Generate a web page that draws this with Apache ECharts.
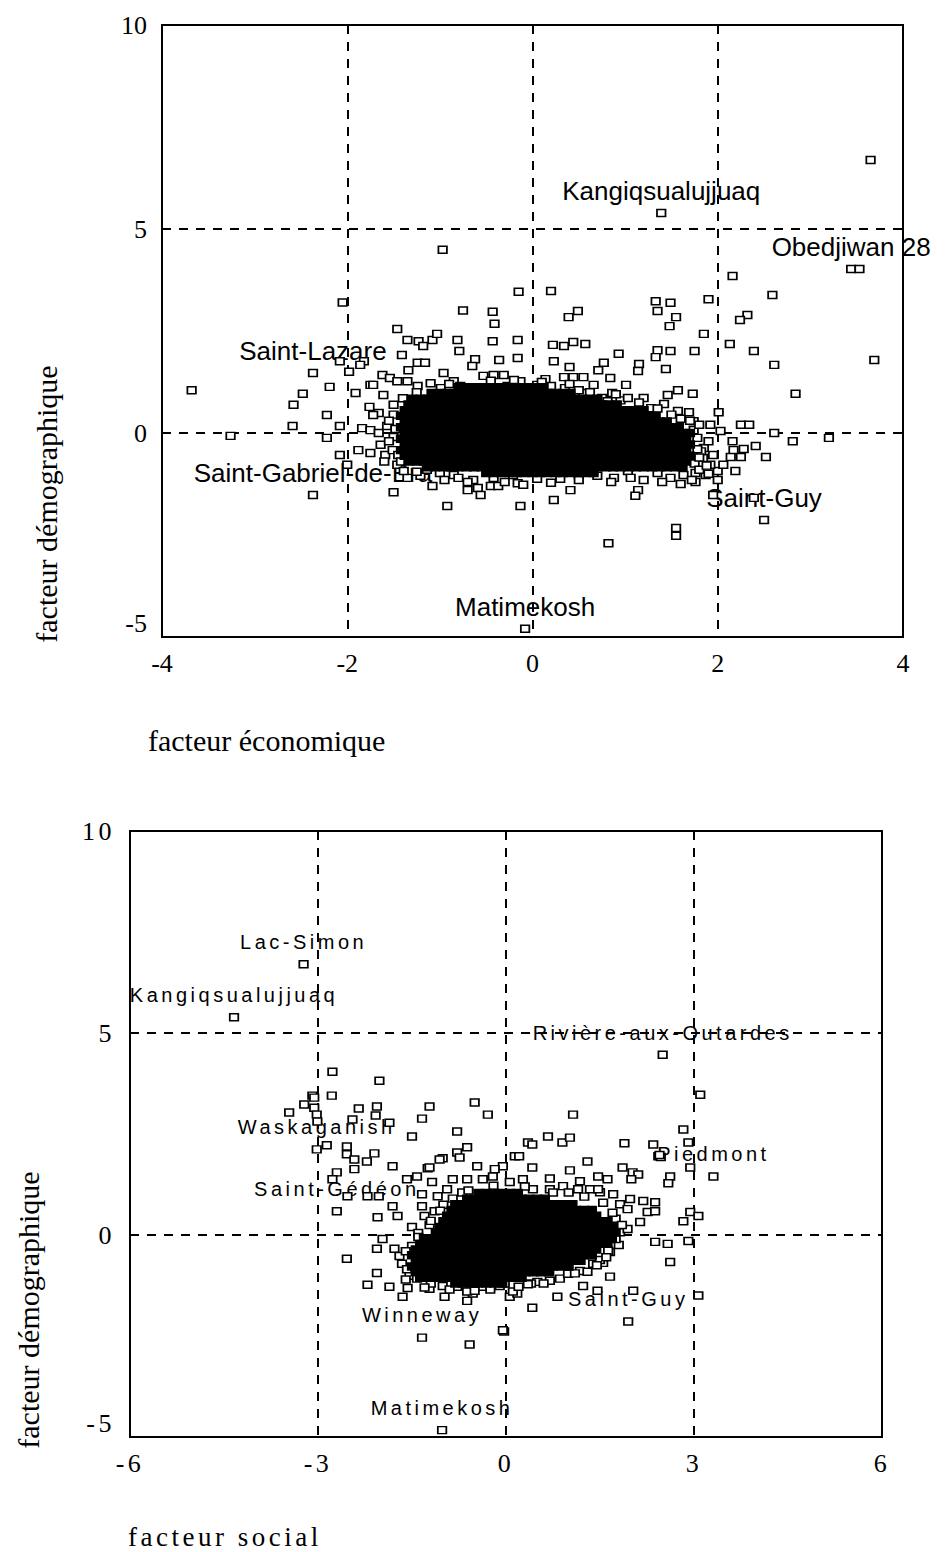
<!DOCTYPE html>
<html>
<head>
<meta charset="utf-8">
<script src="https://cdn.jsdelivr.net/npm/echarts@6.0.0/dist/echarts.min.js"></script>
<style>
  html, body { margin: 0; padding: 0; background: #fff; }
  #top { position: absolute; left: 0; top: 0; width: 946px; height: 1552px; }
  #bottom { position: absolute; left: 0; top: 790px; width: 946px; height: 762px; }
  /* the lower panel is typeset with spaced letters */
  #bottom text { letter-spacing: 3.5px; }
</style>
</head>
<body>
<div id="top"></div>
<div id="bottom"></div>
<script>
// ---------- upper panel : facteur économique x facteur démographique
const ecoTicks = [-4, -2, 0, 2, 4];
const demoTicks = [-5, 0, 5, 10];
const socTicks = [-6, -3, 0, 3, 6];

// labelled municipalities [name, x, y]
const ecoNamed = [
  ['Kangiqsualujjuaq', 1.39, 5.39], ['Obedjiwan 28', 3.44, 4.02], ['Saint-Lazare', -2.37, 1.47],
  ['Saint-Gabriel-de-Bra', -2.37, -1.52], ['Saint-Guy', 2.5, -2.13], ['Matimekosh', -0.08, -4.8]
];

// scattered points [x, y]
const ecoPoints = [
  [3.65,6.69],[-0.97,4.49],[-0.15,3.46],[-2.05,3.2],[-0.75,3.0],[-0.43,2.97],[-0.41,2.68],[-1.46,2.55],
  [3.53,4.02],[2.16,3.85],[2.59,3.38],[0.2,3.48],[1.9,3.28],
  [1.33,3.23],[1.49,3.19],[1.35,2.99],[1.55,2.84],[1.48,2.62],[0.49,2.99],[0.39,2.84],[2.32,2.89],[2.24,2.77],
  [1.85,2.43],[2.13,2.18],[2.39,2.01],[3.69,1.79],[2.61,1.67],[2.84,0.96],[1.75,2.01],
  [1.35,2.03],[1.49,2.01],[1.33,1.86],[1.15,1.69],[1.14,1.52],[1.44,1.57],[0.93,1.94],[0.77,1.72],[0.71,1.54],[0.84,1.35],[1.01,1.18],
  [0.22,2.16],[0.34,2.13],[0.44,2.23],[0.57,2.18],[0.23,1.76],[0.4,1.62],[0.14,1.32],[0.34,1.37],[0.44,1.37],[0.55,1.37],[0.55,0.98],
  [0.75,0.86],[0.86,0.98],[0.74,0.66],[1.57,1.05],[1.46,0.93],[1.73,0.96],[1.42,0.71],[1.69,0.51],[2.01,0.51],[1.74,0.29],[1.92,0.2],
  [2.03,0.05],[2.25,0.2],[2.34,0.2],[2.61,0.0],[2.81,-0.2],[3.2,-0.12],
  [2.16,-0.2],[2.28,-0.39],[2.17,-0.42],[2.41,-0.32],[2.52,-0.59],[2.25,-0.59],[2.14,-0.59],[2.19,-0.93],
  [1.76,-0.98],[1.87,-1.03],[1.76,-1.2],[2.0,-0.93],[2.0,-1.15],
  [1.55,-2.33],[1.55,-2.52],[0.82,-2.7],[0.41,-1.4],[0.23,-1.64],[1.14,-1.4],[1.11,-1.54],[0.5,-1.03],[1.03,-0.93],[1.95,-1.52],[2.39,-1.59],
  [-3.68,1.05],[-3.26,-0.07],[-2.58,0.69],[-2.48,0.96],[-2.59,0.17],[-2.19,1.13],[-2.22,0.44],[-2.22,-0.12],[-2.08,0.17],[-2.08,-0.54],[-2.0,-0.78],
  [-2.08,1.76],[-1.98,1.5],[-1.91,0.98],[-1.82,1.76],[-1.86,1.67],
  [-1.35,2.28],[-1.23,2.25],[-1.18,2.13],[-1.08,2.28],[-1.03,2.43],[-0.81,2.28],[-0.79,2.01],[-0.43,2.25],[-0.16,2.28],
  [-0.16,1.84],[-0.36,1.79],[-0.62,1.81],[-0.65,1.64],[-1.41,1.91],[-1.34,1.54],[-1.24,1.72],[-1.16,1.72],
  [-0.53,1.4],[-0.42,1.42],[-0.31,1.42],[-0.13,1.27],[-0.96,1.47],[-0.85,1.27],
  [-1.62,1.42],[-1.54,1.35],[-1.46,1.27],[-1.75,1.18],[-1.72,1.18],[-1.61,0.93],[-1.76,0.64],[-1.66,0.49],
  [-1.84,0.12],[-1.75,0.07],[-1.66,0.0],[-1.88,-0.42],[-1.75,-0.49],[-1.59,-0.54],
  [-1.5,-1.45],[-0.92,-1.79],[-0.7,-1.4],[-0.59,-1.35],[-0.56,-1.52],[-0.45,-1.3],[-0.37,-1.3],[-1.08,-1.3],[-0.13,-1.79],[-0.16,-1.23],[-1.35,-1.1],[-1.21,-1.05],
  [-1.14,-0.9],[-0.85,-1.03],[-0.64,-1.15],[-0.42,-1.1],[-0.21,-1.03],[-0.1,-1.27],
  [-1.72,0.44],[-1.64,-0.29],[-1.57,0.17],[-1.5,0.69],[-1.51,-0.42],[-1.45,-0.54],[-1.46,-0.78],[-1.39,-0.93],
  [-1.35,1.27],[-1.24,1.15],[-1.1,1.22],[-0.99,1.1],[-0.78,1.15],[-0.64,1.05],[-0.27,1.15],[-0.05,1.1],
  [0.05,1.18],[0.2,1.15],[0.35,1.1],[0.5,1.05],[0.66,1.18],[0.81,0.78],[0.95,0.8],[1.03,0.86],[1.2,0.86],[1.28,0.61],[1.57,0.54],[1.06,0.56],
  [1.78,-0.12],[1.85,-0.37],[1.95,-0.54],[1.74,0.07],[2.06,-0.78],[1.92,-0.78],[1.84,-0.61],
  [1.06,-1.1],[0.88,-1.1],[0.7,-1.05],[1.35,-0.98],[1.49,-1.1],[1.63,-1.03],
  [1.9,-1.0],[1.82,-0.45],[1.9,-0.2],[1.8,0.2],[1.6,0.35],[0.3,-1.12],[0.05,-1.12],[-0.8,-1.1],[-1.0,-0.98],
  [-1.5,0.45],[-1.55,0.3],[-1.5,-0.1],[-1.55,-0.2],[-1.48,0.1],[-1.6,-0.7],[-1.42,-0.7],
  [-0.9,1.2],[-0.45,1.28],[-0.2,1.3],[0.1,1.25],[0.4,1.2],[0.62,1.0],[0.9,0.95],[1.15,0.75],[1.35,0.6],[1.5,0.45],[1.7,0.3],[-1.25,1.0],[-1.4,0.85],
  [-1.25,-0.95],[-0.95,-1.15],[-0.7,-1.2],[-0.3,-1.2],[0.2,-1.22],[0.5,-1.15],[0.85,-1.2],[1.2,-1.15],[1.4,-1.2],[1.72,-1.15],[1.6,-1.25],
  [1.75,-0.75],[1.8,-0.6],[1.78,-0.4],[1.8,-0.9],[1.88,-0.8]
];

// overplotted core, one row per y level: [y, x, x, ...]
const ecoCoreRows = [
  [1.12, -0.8,-0.71,-0.63,-0.55,-0.46,-0.38,-0.3,-0.21,-0.13,-0.05,0.04,0.12],
  [0.98, -1.09,-1.0,-0.92,-0.84,-0.75,-0.67,-0.59,-0.5,-0.42,-0.34,-0.25,-0.17,-0.09,0.0,0.08,0.16,0.25,0.33,0.41],
  [0.84, -1.3,-1.21,-1.13,-1.05,-0.96,-0.88,-0.8,-0.71,-0.63,-0.55,-0.46,-0.38,-0.3,-0.21,-0.13,-0.05,0.04,0.12,0.2,0.29,0.37,0.45,0.54,0.62,0.7],
  [0.70, -1.34,-1.25,-1.17,-1.09,-1.0,-0.92,-0.84,-0.75,-0.67,-0.59,-0.5,-0.42,-0.34,-0.25,-0.17,-0.09,0.0,0.08,0.16,0.25,0.33,0.41,0.5,0.58,0.66,0.75,0.83,0.91],
  [0.56, -1.38,-1.3,-1.21,-1.13,-1.05,-0.96,-0.88,-0.8,-0.71,-0.63,-0.55,-0.46,-0.38,-0.3,-0.21,-0.13,-0.05,0.04,0.12,0.2,0.29,0.37,0.45,0.54,0.62,0.7,0.79,0.87,0.95,1.04,1.12,1.2],
  [0.42, -1.42,-1.34,-1.25,-1.17,-1.09,-1.0,-0.92,-0.84,-0.75,-0.67,-0.59,-0.5,-0.42,-0.34,-0.25,-0.17,-0.09,0.0,0.08,0.16,0.25,0.33,0.41,0.5,0.58,0.66,0.75,0.83,0.91,1.0,1.08,1.16,1.25,1.33],
  [0.28, -1.38,-1.3,-1.21,-1.13,-1.05,-0.96,-0.88,-0.8,-0.71,-0.63,-0.55,-0.46,-0.38,-0.3,-0.21,-0.13,-0.05,0.04,0.12,0.2,0.29,0.37,0.45,0.54,0.62,0.7,0.79,0.87,0.95,1.04,1.12,1.2,1.29,1.37,1.45],
  [0.14, -1.42,-1.34,-1.25,-1.17,-1.09,-1.0,-0.92,-0.84,-0.75,-0.67,-0.59,-0.5,-0.42,-0.34,-0.25,-0.17,-0.09,0.0,0.08,0.16,0.25,0.33,0.41,0.5,0.58,0.66,0.75,0.83,0.91,1.0,1.08,1.16,1.25,1.33,1.41,1.5,1.58],
  [0.0, -1.38,-1.3,-1.21,-1.13,-1.05,-0.96,-0.88,-0.8,-0.71,-0.63,-0.55,-0.46,-0.38,-0.3,-0.21,-0.13,-0.05,0.04,0.12,0.2,0.29,0.37,0.45,0.54,0.62,0.7,0.79,0.87,0.95,1.04,1.12,1.2,1.29,1.37,1.45,1.54,1.62,1.7],
  [-0.14, -1.42,-1.34,-1.25,-1.17,-1.09,-1.0,-0.92,-0.84,-0.75,-0.67,-0.59,-0.5,-0.42,-0.34,-0.25,-0.17,-0.09,0.0,0.08,0.16,0.25,0.33,0.41,0.5,0.58,0.66,0.75,0.83,0.91,1.0,1.08,1.16,1.25,1.33,1.41,1.5,1.58,1.66],
  [-0.28, -1.38,-1.3,-1.21,-1.13,-1.05,-0.96,-0.88,-0.8,-0.71,-0.63,-0.55,-0.46,-0.38,-0.3,-0.21,-0.13,-0.05,0.04,0.12,0.2,0.29,0.37,0.45,0.54,0.62,0.7,0.79,0.87,0.95,1.04,1.12,1.2,1.29,1.37,1.45,1.54,1.62,1.7],
  [-0.42, -1.42,-1.34,-1.25,-1.17,-1.09,-1.0,-0.92,-0.84,-0.75,-0.67,-0.59,-0.5,-0.42,-0.34,-0.25,-0.17,-0.09,0.0,0.08,0.16,0.25,0.33,0.41,0.5,0.58,0.66,0.75,0.83,0.91,1.0,1.08,1.16,1.25,1.33,1.41,1.5,1.58,1.66],
  [-0.56, -1.38,-1.3,-1.21,-1.13,-1.05,-0.96,-0.88,-0.8,-0.71,-0.63,-0.55,-0.46,-0.38,-0.3,-0.21,-0.13,-0.05,0.04,0.12,0.2,0.29,0.37,0.45,0.54,0.62,0.7,0.79,0.87,0.95,1.04,1.12,1.2,1.29,1.37,1.45,1.54,1.62,1.7],
  [-0.70, -1.34,-1.25,-1.17,-1.09,-1.0,-0.92,-0.84,-0.75,-0.67,-0.59,-0.5,-0.42,-0.34,-0.25,-0.17,-0.09,0.0,0.08,0.16,0.25,0.33,0.41,0.5,0.58,0.66,0.75,0.83,0.91,1.0,1.08,1.16,1.25,1.33,1.41,1.5,1.58,1.66],
  [-0.84, -1.13,-1.05,-0.96,-0.88,-0.8,-0.71,-0.63,-0.55,-0.46,-0.38,-0.3,-0.21,-0.13,-0.05,0.04,0.12,0.2,0.29,0.37,0.45,0.54,0.62,0.7,0.79,0.87,0.95,1.04,1.12,1.2,1.29,1.37,1.45,1.54,1.62],
  [-0.98, -0.5,-0.42,-0.34,-0.25,-0.17,-0.09,0.0,0.08,0.16,0.25,0.33,0.41,0.5,0.58,0.66]
];

// ---------- lower panel : facteur social x facteur démographique
const socNamed = [
  ['Lac-Simon', -3.23, 6.7], ['Kangiqsualujjuaq', -4.34, 5.39], ['Rivière-aux-Outardes', 2.5, 4.46],
  ['Waskaganish', -3.02, 2.12], ['Saint-Gédéon', -2.7, 0.59], ['Piedmont', 3.31, 1.45],
  ['Winneway', -1.34, -2.54], ['Saint-Guy', 1.95, -2.14], ['Matimekosh', -1.02, -4.83]
];

const socPoints = [
  [-2.77,4.04],[-2.02,3.82],[-3.09,3.45],[-2.78,3.45],[3.1,3.47],
  [-3.06,3.4],[-3.46,3.03],[-3.22,3.23],[-3.06,3.15],[-3.02,2.98],[-3.01,2.81],
  [-2.35,3.13],[-2.06,3.18],[-2.08,2.96],[-1.22,3.18],[-0.5,3.28],[-0.29,2.98],[-1.34,2.88],[-1.86,2.78],[-1.5,2.44],[-0.78,2.56],[-2.45,2.86],
  [-2.86,2.22],[-2.54,2.19],[-2.54,2.0],[-2.42,1.87],[-2.22,1.82],[-2.1,2.02],[-2.42,1.63],[-1.81,1.7],[-2.7,1.55],[-2.77,1.38],
  [-2.53,0.96],[-2.21,0.96],[-2.03,0.96],[-1.81,0.71],[-1.73,0.47],[-2.05,0.44],[-1.34,0.71],
  [-1.58,1.38],[-1.42,1.45],[-1.25,1.65],[-1.18,1.31],[-1.34,1.01],[-1.5,0.2],[-1.22,0.25],
  [-1.97,-0.1],[-2.06,-0.34],[-1.78,-0.34],[-2.54,-0.59],[-2.06,-0.94],[-2.21,-1.23],
  [-1.86,-1.28],[-1.65,-1.53],[-1.57,-1.31],[-1.22,-1.33],[-0.98,-1.53],[-0.62,-1.63],[-0.53,-1.45],
  [-0.58,-2.71],[-0.03,-2.39],[0.06,-1.53],[0.14,1.95],[-0.05,1.7],
  [-0.62,2.17],[-0.78,2.04],[-1.01,1.9],[-1.22,1.67],
  [1.07,2.98],[2.83,2.61],[2.91,2.29],[2.35,2.24],[2.94,1.67],[1.89,2.27],
  [0.67,2.44],[0.9,2.29],[1.02,2.41],[0.35,2.29],[0.42,2.24],[0.21,1.95],[1.3,1.82],[1.02,1.6],[0.42,1.67],[0.7,1.4],
  [1.86,1.67],[2.02,1.55],[2.11,1.5],[2.0,1.38],[2.62,1.45],[2.59,1.28],[1.62,1.38],[1.18,1.33],[1.47,1.45],
  [2.43,1.95],[2.47,1.93],[2.45,1.98],
  [2.94,0.57],[3.07,0.47],[2.83,0.34],[2.91,-0.15],[2.38,-0.17],[2.58,-0.22],[2.62,-0.67],[1.66,-0.42],[1.55,-0.69],[1.66,-1.03],
  [1.23,-1.26],[1.46,-1.38],[2.03,-1.38],[3.07,-1.5],[0.82,-1.53],[0.42,-1.8],[0.18,-1.45],[-0.05,-2.36],
  [-1.3,0.47],[-1.14,0.59],[-1.09,0.96],[-0.94,1.13],[-0.85,1.38],[-0.62,1.38],[-0.46,1.7],[-0.37,1.38],[-0.18,1.63],[-1.06,1.87],[-0.74,1.92],
  [-1.5,-0.27],[-1.7,-0.52],[-1.66,-0.71],[-1.54,-1.01],[-1.42,-1.08],[-1.01,-1.26],[-0.78,-1.28],[-0.62,-1.4],[-0.38,-1.28],[-0.1,-1.26],[0.11,-1.4],
  [-0.02,-1.2],[0.5,-1.16],[0.7,-1.13],[0.86,-1.08],[0.99,-0.96],[1.18,-0.89],[1.3,-0.91],[1.39,-0.71],[1.63,-0.39],[1.62,-0.1],
  [1.82,0.07],[1.94,0.15],[2.14,0.32],[2.26,0.57],[2.38,0.81],[2.38,0.59],[2.19,0.84],[1.98,0.89],[1.82,0.76],[1.94,0.64],
  [1.71,1.01],[1.5,1.06],[1.34,1.13],[1.15,1.13],[0.91,1.21],[0.7,1.13],[0.43,1.13],[0.27,1.38],[0.06,1.31],[-0.21,1.45],[1.47,1.13],
  [-1.25,-0.1],[-1.4,0.05],[-1.0,0.75],[-0.7,1.05],[1.75,0.4],[1.8,-0.25],[1.5,-0.62],[0.4,-1.2],[-1.2,-1.2],
  [-1.6,-0.4],[-1.58,-0.85],[-1.6,-1.1],[-1.3,-1.3],[-0.9,-1.35],[-0.5,-1.38],[-0.25,-1.35],[0.2,-1.28],[0.35,-1.22],[0.6,-1.2],
  [1.1,-0.95],[1.45,-0.75],[1.6,-0.55],[1.75,-0.1],[1.85,0.25],[1.7,0.55],[1.55,0.8],[1.25,0.95],[1.0,1.05],[0.75,1.05],
  [0.3,1.2],[-0.2,1.22],[-0.6,1.1],[-0.85,0.9],[-1.05,0.6],[-1.2,0.35],[-1.4,-0.05]
];

const socCoreRows = [
  [1.04, -0.44,-0.31,-0.19,-0.06,0.06,0.19],
  [0.90, -0.62,-0.5,-0.37,-0.25,-0.12,0.0,0.12,0.25,0.37,0.5,0.62],
  [0.76, -0.81,-0.69,-0.56,-0.44,-0.31,-0.19,-0.06,0.06,0.19,0.31,0.44,0.56,0.69,0.81,0.94,1.06],
  [0.62, -0.87,-0.75,-0.62,-0.5,-0.37,-0.25,-0.12,0.0,0.12,0.25,0.37,0.5,0.62,0.75,0.87,1.0,1.12,1.25,1.37],
  [0.48, -0.94,-0.81,-0.69,-0.56,-0.44,-0.31,-0.19,-0.06,0.06,0.19,0.31,0.44,0.56,0.69,0.81,0.94,1.06,1.19,1.31,1.44],
  [0.34, -1.0,-0.87,-0.75,-0.62,-0.5,-0.37,-0.25,-0.12,0.0,0.12,0.25,0.37,0.5,0.62,0.75,0.87,1.0,1.12,1.25,1.37,1.5,1.62],
  [0.20, -1.06,-0.94,-0.81,-0.69,-0.56,-0.44,-0.31,-0.19,-0.06,0.06,0.19,0.31,0.44,0.56,0.69,0.81,0.94,1.06,1.19,1.31,1.44,1.56,1.69],
  [0.06, -1.12,-1.0,-0.87,-0.75,-0.62,-0.5,-0.37,-0.25,-0.12,0.0,0.12,0.25,0.37,0.5,0.62,0.75,0.87,1.0,1.12,1.25,1.37,1.5,1.62,1.75],
  [-0.08, -1.31,-1.19,-1.06,-0.94,-0.81,-0.69,-0.56,-0.44,-0.31,-0.19,-0.06,0.06,0.19,0.31,0.44,0.56,0.69,0.81,0.94,1.06,1.19,1.31,1.44,1.56,1.69],
  [-0.22, -1.37,-1.25,-1.12,-1.0,-0.87,-0.75,-0.62,-0.5,-0.37,-0.25,-0.12,0.0,0.12,0.25,0.37,0.5,0.62,0.75,0.87,1.0,1.12,1.25,1.37,1.5,1.62],
  [-0.36, -1.44,-1.31,-1.19,-1.06,-0.94,-0.81,-0.69,-0.56,-0.44,-0.31,-0.19,-0.06,0.06,0.19,0.31,0.44,0.56,0.69,0.81,0.94,1.06,1.19,1.31,1.44],
  [-0.50, -1.5,-1.37,-1.25,-1.12,-1.0,-0.87,-0.75,-0.62,-0.5,-0.37,-0.25,-0.12,0.0,0.12,0.25,0.37,0.5,0.62,0.75,0.87,1.0,1.12,1.25,1.37],
  [-0.64, -1.44,-1.31,-1.19,-1.06,-0.94,-0.81,-0.69,-0.56,-0.44,-0.31,-0.19,-0.06,0.06,0.19,0.31,0.44,0.56,0.69,0.81,0.94,1.06,1.19],
  [-0.78, -1.5,-1.37,-1.25,-1.12,-1.0,-0.87,-0.75,-0.62,-0.5,-0.37,-0.25,-0.12,0.0,0.12,0.25,0.37,0.5,0.62,0.75,0.87,1.0],
  [-0.92, -1.44,-1.31,-1.19,-1.06,-0.94,-0.81,-0.69,-0.56,-0.44,-0.31,-0.19,-0.06,0.06,0.19,0.31,0.44,0.56,0.69],
  [-1.06, -1.37,-1.25,-1.12,-1.0,-0.87,-0.75,-0.62,-0.5,-0.37,-0.25,-0.12,0.0,0.12,0.25],
  [-1.20, -0.81,-0.69,-0.56,-0.44,-0.31,-0.19,-0.06]
];

// ---------- helpers
function rowsToPoints(rows) {
  const out = [];
  rows.forEach(function (r) {
    for (let i = 1; i < r.length; i++) out.push([r[i], r[0]]);
  });
  return out;
}

const serif = 'Liberation Serif';
const sans = 'Liberation Sans';
const hollow = { color: '#fff', borderColor: '#000', borderWidth: 1.6, opacity: 1 };
const solid = { color: '#000', borderColor: '#000', borderWidth: 1.6, opacity: 1 };
const markSize = [8.5, 7];

function valueAxis(ticks, isY) {
  const ax = {
    type: 'value',
    min: ticks[0],
    max: ticks[ticks.length - 1],
    interval: ticks[1] - ticks[0],
    axisLine: { show: true, onZero: false, lineStyle: { color: '#000', width: 2 } },
    axisTick: { show: false },
    axisLabel: { color: '#000', fontFamily: serif, fontSize: 26, margin: isY ? 15 : 13 },
    splitLine: { show: true, lineStyle: { color: '#000', width: 2, type: [9, 8] } }
  };
  if (isY) {
    // the lowest label sits a bit above its tick in the original
    ax.axisLabel.formatter = function (v) {
      return v === ticks[0] ? '{lo|' + v + '}' : String(v);
    };
    ax.axisLabel.rich = { lo: { fontFamily: serif, fontSize: 26, color: '#000', padding: [0, 0, 28, 0] } };
  }
  return ax;
}

function panelOption(p) {
  return {
    animation: false,
    backgroundColor: 'transparent',
    grid: Object.assign({
      show: true, borderColor: '#000', borderWidth: 2,
      backgroundColor: 'transparent', containLabel: false, outerBoundsMode: 'none'
    }, p.grid),
    xAxis: valueAxis(p.xTicks, false),
    yAxis: valueAxis(p.yTicks, true),
    graphic: p.graphic,
    series: [
      {
        type: 'scatter', z: 2, silent: true,
        symbol: 'rect', symbolSize: markSize, itemStyle: hollow,
        data: p.named.map(function (d) { return { name: d[0], value: [d[1], d[2]] }; }),
        label: {
          show: true, position: 'top', distance: p.labelDist, formatter: '{b}',
          color: '#000', fontFamily: sans, fontSize: p.labelSize
        }
      },
      {
        type: 'scatter', z: 3, silent: true,
        symbol: 'rect', symbolSize: markSize, itemStyle: hollow,
        data: p.points
      },
      {
        type: 'scatter', z: 4, silent: true,
        symbol: 'rect', symbolSize: markSize, itemStyle: solid,
        data: rowsToPoints(p.coreRows)
      }
    ]
  };
}

function titleText(text, x, y, size, rotated, align) {
  return {
    type: 'text', x: x, y: y, rotation: rotated ? Math.PI / 2 : 0, silent: true,
    style: {
      text: text, fill: '#000', fontFamily: serif, fontSize: size,
      align: align, verticalAlign: 'middle', textAlign: align, textVerticalAlign: 'middle'
    }
  };
}

const topChart = echarts.init(document.getElementById('top'), null, { renderer: 'svg' });
topChart.setOption(panelOption({
  grid: { left: 162, top: 25, width: 741, height: 612 },
  xTicks: ecoTicks, yTicks: demoTicks,
  named: ecoNamed, points: ecoPoints, coreRows: ecoCoreRows,
  labelSize: 26, labelDist: 5,
  graphic: [
    titleText('facteur démographique', 46, 504, 30, true, 'center'),
    titleText('facteur économique', 148, 740, 30, false, 'left'),
    // y title of the lower panel (not letter-spaced)
    titleText('facteur démographique', 28, 1310, 30, true, 'center')
  ]
}));

const bottomChart = echarts.init(document.getElementById('bottom'), null, { renderer: 'svg' });
bottomChart.setOption(panelOption({
  grid: { left: 130, top: 41, width: 752, height: 606 },
  xTicks: socTicks, yTicks: demoTicks,
  named: socNamed, points: socPoints, coreRows: socCoreRows,
  labelSize: 20, labelDist: 8,
  graphic: [
    titleText('facteur social', 128, 747, 27, false, 'left')
  ]
}));
</script>
</body>
</html>
